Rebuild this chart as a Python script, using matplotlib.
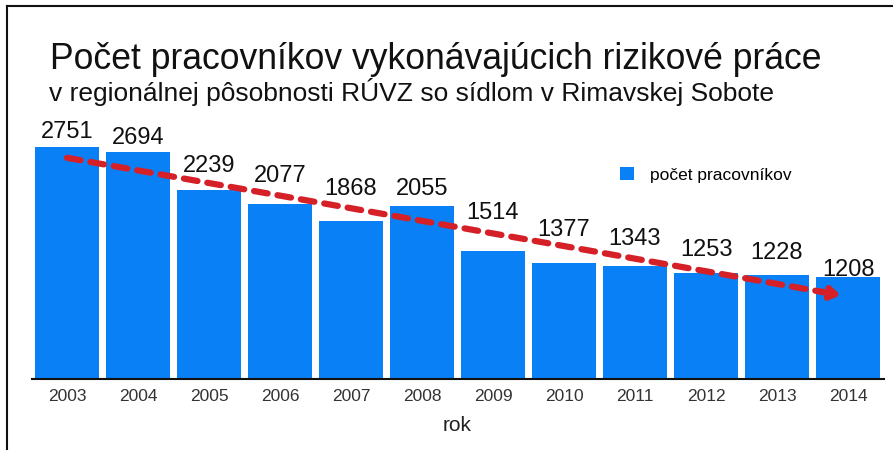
import matplotlib
matplotlib.use("Agg")
import matplotlib.pyplot as plt
from matplotlib.lines import Line2D
import numpy as np

years = ["2003", "2004", "2005", "2006", "2007", "2008", "2009", "2010", "2011", "2012", "2013", "2014"]
workers = [2751, 2694, 2239, 2077, 1868, 2055, 1514, 1377, 1343, 1253, 1228, 1208]
title = "Počet pracovníkov vykonávajúcich rizikové práce"
subtitle = "v regionálnej pôsobnosti RÚVZ so sídlom v Rimavskej Sobote"
legend_label = "počet pracovníkov"
x_label = "rok"

# label gaps above bars (pixels), as placed in the original
label_gaps = [9, 8, 18, 22, 26, 11, 32, 27, 21, 17, 16, 1]

plt.rcParams['font.family'] = ['Liberation Sans', 'DejaVu Sans']

BLUE = "#0a80f7"
RED = "#d52027"

fig = plt.figure(figsize=(8.93, 4.5), dpi=100)
ax = fig.add_axes([31.5 / 893, 71 / 450, 852 / 893, 253 / 450])

x = np.arange(len(years))
ax.bar(x, workers, width=0.9, color=BLUE, label=legend_label, zorder=2)

for xi, v, g in zip(x, workers, label_gaps):
    ax.annotate(str(v), xy=(xi, v), xytext=(0, g), textcoords="offset pixels",
                ha="center", va="baseline", fontsize=17, color="#111111", zorder=4)

# linear trend line with arrow
coef = np.polyfit(x, workers, 1)
x_end = 10.9
xt = np.linspace(0, x_end - 0.25, 50)
ax.plot(xt, np.polyval(coef, xt), color=RED, lw=4.5, linestyle=(0, (2.2, 1.6)),
        dash_capstyle="round", zorder=3)
ax.annotate("", xy=(x_end, np.polyval(coef, x_end)),
            xytext=(x_end - 0.3, np.polyval(coef, x_end - 0.3)),
            arrowprops=dict(arrowstyle="->,head_length=0.55,head_width=0.35",
                            color=RED, lw=4.5, shrinkA=0, shrinkB=0),
            zorder=3)

ax.set_xlim(-0.5, 11.5)
ax.set_ylim(0, 3000)
ax.set_xticks(x)
ax.set_xticklabels(years)
ax.set_yticks([])
ax.tick_params(axis="x", length=0, pad=7, labelsize=12.5, labelcolor="#333333")
for s in ["top", "right", "left"]:
    ax.spines[s].set_visible(False)
ax.spines["bottom"].set_color("#111111")
ax.spines["bottom"].set_linewidth(1.5)
ax.spines["bottom"].set_zorder(5)
ax.set_xlabel(x_label, fontsize=15, color="#222222", labelpad=9)

ax.legend(loc="upper left", bbox_to_anchor=(604 / 893, 1 - 151 / 450),
          bbox_transform=fig.transFigure, frameon=False, fontsize=12.5,
          handlelength=0.85, handleheight=0.85, handletextpad=0.9)

fig.text(50 / 893, 1 - 69 / 450, title, fontsize=25.6, color="#111111", va="baseline", ha="left")
fig.text(49 / 893, 1 - 101.5 / 450, subtitle, fontsize=19, color="#111111", va="baseline", ha="left")

# frame lines (left and top)
fig.add_artist(Line2D([7 / 893, 7 / 893], [0, 1 - 6 / 450], transform=fig.transFigure,
                      color="#111111", lw=1.5))
fig.add_artist(Line2D([7 / 893, 1], [1 - 6 / 450, 1 - 6 / 450], transform=fig.transFigure,
                      color="#111111", lw=1.5))

fig.savefig("out.png", dpi=100, facecolor="white")
